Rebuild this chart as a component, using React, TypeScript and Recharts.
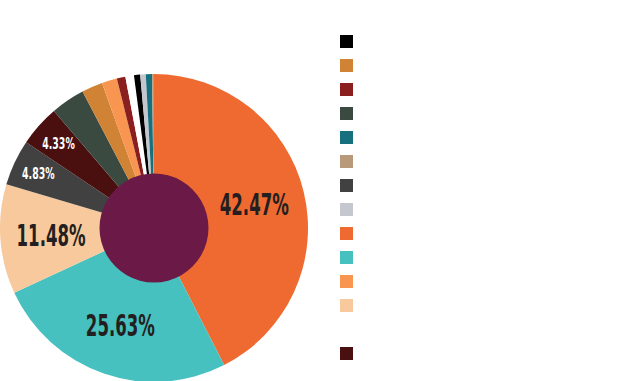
import { PieChart, Pie, Cell, Legend } from "recharts";

const categories = [
  "A", "B", "C", "D", "E", "F", "G",
  "H", "I", "J", "K", "L", "M", "N",
];
const shares = [42.47, 25.63, 11.48, 4.83, 4.33, 3.58, 2.2, 1.6, 0.9, 0.9, 0.65, 0.58, 0.65, 0.2];
const colors = [
  "#EF6A30", "#47C1C0", "#F7C99C", "#414141", "#4A1010", "#3A4A40", "#D08235",
  "#F89550", "#8B1F1F", "#FFFFFF", "#000000", "#C4C8CE", "#17707E", "#B8997A",
];
// legend order as in the picture (indices into categories)
const legendOrder = [10, 6, 8, 5, 12, 13, 3, 11, 0, 1, 7, 2, 9, 4];

const data = categories.map((name, i) => ({ name, value: shares[i] }));
const RAD = Math.PI / 180;

const renderLabel = (props: any) => {
  const { cx, cy, midAngle, outerRadius, value } = props;
  if (value < 4) return null;
  const big = value > 10;
  const r = outerRadius * (big ? 0.67 : 0.83);
  const x = cx + r * Math.cos(-midAngle * RAD);
  const y = cy + r * Math.sin(-midAngle * RAD);
  const fontSize = big ? 30 : 16;
  const text = `${value.toFixed(2)}%`;
  return (
    <text
      x={x}
      y={y + fontSize * 0.36}
      textAnchor="middle"
      fill={big ? "#231F20" : "#FFFFFF"}
      fontSize={fontSize}
      fontWeight="bold"
      fontFamily="'Liberation Sans Narrow', 'DejaVu Sans Condensed', sans-serif"
      textLength={text.length * (big ? 11.5 : 6.5)}
      lengthAdjust="spacingAndGlyphs"
    >
      {text}
    </text>
  );
};

const renderLegend = () => (
  <div>
    {legendOrder.map((idx) => (
      <div
        key={idx}
        style={{ width: 13, height: 13, background: colors[idx], marginBottom: 11 }}
      />
    ))}
  </div>
);

export default function App() {
  return (
    <div style={{ position: "absolute", left: 0, top: 0, width: 620, height: 381, background: "#fff" }}>
      <PieChart width={620} height={381} margin={{ top: 0, right: 0, bottom: 0, left: 0 }}>
        <Pie
          data={data}
          dataKey="value"
          cx={154}
          cy={228}
          outerRadius={154}
          startAngle={90}
          endAngle={-270}
          stroke="none"
          label={renderLabel}
          labelLine={false}
          isAnimationActive={false}
        >
          {data.map((d, i) => (
            <Cell key={d.name} fill={colors[i]} />
          ))}
        </Pie>
        <Pie
          data={[{ name: "center", value: 1 }]}
          dataKey="value"
          cx={154}
          cy={228}
          outerRadius={54.5}
          fill="#6B1A47"
          stroke="none"
          isAnimationActive={false}
        />
        <Legend
          content={renderLegend}
          wrapperStyle={{ position: "absolute", left: 340, top: 35, width: 20 }}
        />
      </PieChart>
    </div>
  );
}
